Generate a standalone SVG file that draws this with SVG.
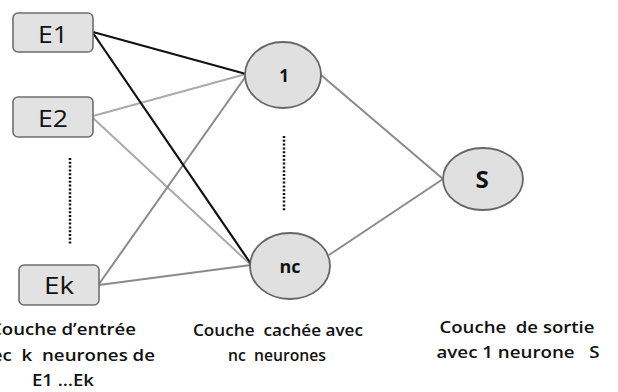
<svg xmlns="http://www.w3.org/2000/svg" width="618" height="392" viewBox="0 0 618 392">
<style>
.box{fill:#e2e2e2;stroke:#6e6e6e;stroke-width:1.6}
.neu{fill:#e0e0e0;stroke:#666;stroke-width:1.8}
.in{font-family:"Open Sans","Liberation Sans",Arial,sans-serif;font-size:24px;fill:#111;text-anchor:middle}
.nl{font-family:"Open Sans","Liberation Sans",Arial,sans-serif;font-weight:bold;fill:#111;text-anchor:middle}
.cap{font-family:"Open Sans","Liberation Sans",Arial,sans-serif;font-weight:600;font-size:16px;fill:#111;text-anchor:middle;white-space:pre}
.k{stroke:#111;stroke-width:2.2;fill:none}
.l{stroke:#aaa;stroke-width:2;fill:none}
.m{stroke:#8a8a8a;stroke-width:2;fill:none}
.dot{stroke:#111;stroke-width:2.5;stroke-dasharray:2 1.8;fill:none}
</style>
<rect width="618" height="392" fill="#fff"/>
<g id="connectors">
<line class="l" x1="93" y1="116" x2="246" y2="74"/>
<line class="l" x1="93" y1="118" x2="251" y2="265"/>
<line class="m" x1="99" y1="284" x2="246" y2="76"/>
<line class="m" x1="99" y1="285" x2="251" y2="265"/>
<line class="k" x1="93" y1="32" x2="246" y2="74"/>
<line class="k" x1="93" y1="33" x2="251" y2="264"/>
<line class="m" x1="321" y1="75" x2="443" y2="179"/>
<line class="m" x1="329" y1="255" x2="443" y2="179"/>
<line class="dot" x1="70" y1="158" x2="70" y2="245"/>
<line class="dot" x1="284" y1="136" x2="284" y2="212"/>
</g>
<g id="E1"><rect class="box" x="13" y="13" width="80" height="39" rx="5"/><text class="in" x="53" y="43" textLength="30" lengthAdjust="spacingAndGlyphs">E1</text></g>
<g id="E2"><rect class="box" x="13" y="97" width="80" height="40" rx="5"/><text class="in" x="53" y="127" textLength="30" lengthAdjust="spacingAndGlyphs">E2</text></g>
<g id="Ek"><rect class="box" x="19" y="265" width="80" height="40" rx="5"/><text class="in" x="59" y="294" textLength="30" lengthAdjust="spacingAndGlyphs">Ek</text></g>
<g id="N1"><ellipse class="neu" cx="283" cy="75" rx="38" ry="33"/><text class="nl" x="284" y="82" font-size="17">1</text></g>
<g id="Nnc"><ellipse class="neu" cx="290" cy="266" rx="40" ry="33"/><text class="nl" x="290" y="273" font-size="18">nc</text></g>
<g id="S"><ellipse class="neu" cx="483" cy="179" rx="40" ry="31"/><text class="nl" x="482" y="188" font-size="24">S</text></g>
<g id="captions">
<text class="cap" x="63" y="335" textLength="146" lengthAdjust="spacingAndGlyphs">Couche d’entrée</text>
<text class="cap" x="63" y="361" textLength="184" lengthAdjust="spacingAndGlyphs">avec  k  neurones de</text>
<text class="cap" x="63" y="386" textLength="62" lengthAdjust="spacingAndGlyphs">E1 …Ek</text>
<text class="cap" x="278" y="336" textLength="170" lengthAdjust="spacingAndGlyphs">Couche  cachée avec</text>
<text class="cap" x="277" y="361" textLength="98" lengthAdjust="spacingAndGlyphs">nc  neurones</text>
<text class="cap" x="517" y="333" textLength="155" lengthAdjust="spacingAndGlyphs">Couche  de sortie</text>
<text class="cap" x="518" y="358" textLength="163" lengthAdjust="spacingAndGlyphs">avec 1 neurone   S</text>
</g>
</svg>
